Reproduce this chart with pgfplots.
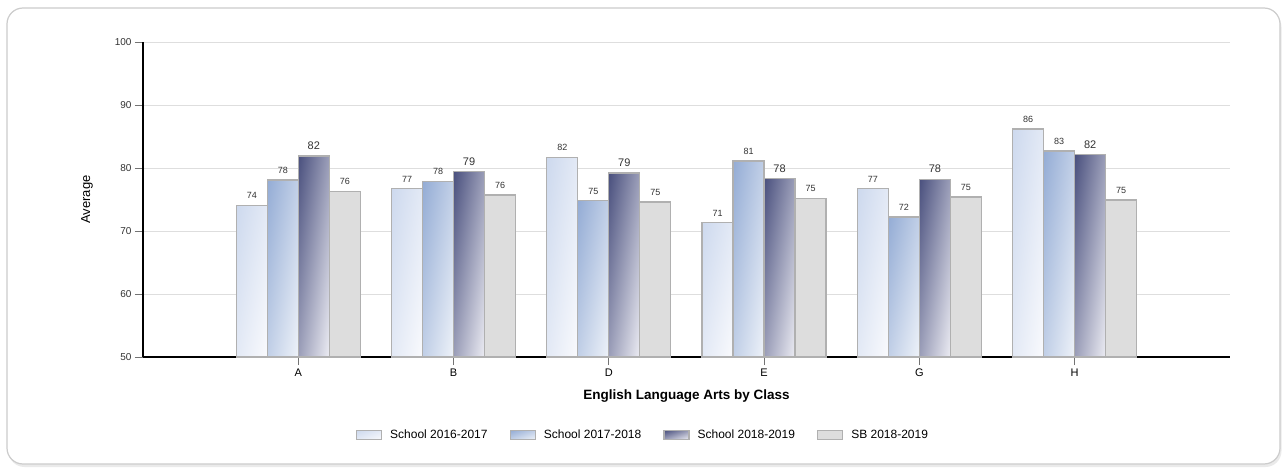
\documentclass[border=0pt]{standalone}
\usepackage{fontspec}
\setmainfont{Liberation Sans}
\usepackage{pgfplots}
\pgfplotsset{compat=1.18}
\usetikzlibrary{shadows}
\pgfdeclarefunctionalshading{dgA}{\pgfpoint{-50bp}{-50bp}}{\pgfpoint{50bp}{50bp}}{}{
  sub 100 div 0.5 add dup 0.173 mul 0.804 add exch dup 0.129 mul 0.851 add exch 0.059 mul 0.933 add }
\pgfdeclarefunctionalshading{dgB}{\pgfpoint{-50bp}{-50bp}}{\pgfpoint{50bp}{50bp}}{}{
  sub 100 div 0.5 add dup 0.353 mul 0.580 add exch dup 0.275 mul 0.675 add exch 0.141 mul 0.835 add }
\pgfdeclarefunctionalshading{dgC}{\pgfpoint{-50bp}{-50bp}}{\pgfpoint{50bp}{50bp}}{}{
  sub 100 div 0.5 add dup 0.635 mul 0.290 add exch dup 0.612 mul 0.314 add exch 0.459 mul 0.494 add }
\definecolor{s1l}{HTML}{CDD9EE}
\definecolor{s2l}{HTML}{94ACD5}
\definecolor{s3a}{HTML}{4A507E}
\definecolor{s4}{HTML}{DDDDDD}
\definecolor{edge}{HTML}{B0B0B0}
\definecolor{gridc}{HTML}{DEDEDE}
\definecolor{txt}{HTML}{333333}
\pgfplotsset{
  sA/.style={ybar, bar width=31pt, bar shift=-46.5pt, draw=edge, line width=1.3pt, fill=s1l, shade, shading=dgA},
  sB/.style={ybar, bar width=31pt, bar shift=-15.5pt, draw=edge, line width=1.3pt, fill=s2l, shade, shading=dgB},
  sC/.style={ybar, bar width=31pt, bar shift=15.5pt, draw=edge, line width=1.3pt, fill=s3a, shade, shading=dgC},
  sD/.style={ybar, bar width=31pt, bar shift=46.5pt, draw=edge, line width=1.3pt, fill=s4},
  lab/.style={draw=none, mark=none, forget plot,
    nodes near coords={\pgfmathprintnumber[fixed,precision=0]{\pgfplotspointmeta}},
    every node near coord/.append style={font=\fontsize{9}{11}\selectfont, text=txt, yshift=3pt, xshift=#1}},
}
\begin{document}
\begin{tikzpicture}[x=1pt,y=1pt]
\useasboundingbox (0,0) rectangle (1286,472);
\fill[white] (0,0) rectangle (1286,472);
\draw[black!20, line width=1.2pt, rounded corners=16pt, fill=white,
  drop shadow={shadow xshift=1.5pt, shadow yshift=-3pt, fill=black!16}]
  (7,8) rectangle (1280,464);
\begin{axis}[
  at={(143pt,115pt)}, anchor=south west, scale only axis,
  width=1087pt, height=315pt,
  xmin=-1, xmax=6, ymin=50, ymax=100,
  ytick={50,60,70,80,90,100},
  xtick={0,1,2,3,4,5}, xticklabels={A,B,D,E,G,H},
  ymajorgrids, grid style={gridc, line width=1pt},
  axis x line*=bottom, axis y line*=left,
  axis line style={black, line width=2pt},
  tick align=outside, major tick length=8pt,
  tick style={draw=black!55, line width=0.8pt},
  /pgf/number format/assume math mode=true,
  yticklabel style={font=\fontsize{10}{12}\selectfont, text=txt},
  xticklabel style={font=\fontsize{11}{13}\selectfont, text=black},
  ylabel={Average},
  every axis y label/.style={at={(axis description cs:0,0.5)}, xshift=-56pt, rotate=90, anchor=center, font=\fontsize{13}{15}\selectfont},
  xlabel={English Language Arts by Class},
  every axis x label/.style={at={(axis description cs:0.5,0)}, yshift=-39pt, anchor=center, font=\bfseries\fontsize{13.5}{15}\selectfont},
  legend style={at={(axis description cs:0.5,0)}, anchor=center, xshift=-43.5pt, yshift=-78pt,
    draw=none, fill=none, legend columns=4, font=\fontsize{12}{14}\selectfont,
    /tikz/every odd column/.append style={column sep=6pt},
    /tikz/every even column/.append style={column sep=20pt}},
  legend image code/.code={\draw[#1] (0pt,-4.5pt) rectangle (25pt,4.5pt);},
]
% School 2016-2017
\addplot[sA] coordinates {(0,74.1)};
\addlegendentry{School 2016-2017}
\addplot[sA, forget plot] coordinates {(1,76.7)};
\addplot[sA, forget plot] coordinates {(2,81.7)};
\addplot[sA, forget plot] coordinates {(3,71.3)};
\addplot[sA, forget plot] coordinates {(4,76.7)};
\addplot[sA, forget plot] coordinates {(5,86.2)};
% School 2017-2018
\addplot[sB] coordinates {(0,78.1)};
\addlegendentry{School 2017-2018}
\addplot[sB, forget plot] coordinates {(1,77.9)};
\addplot[sB, forget plot] coordinates {(2,74.8)};
\addplot[sB, forget plot] coordinates {(3,81.1)};
\addplot[sB, forget plot] coordinates {(4,72.2)};
\addplot[sB, forget plot] coordinates {(5,82.7)};
% School 2018-2019
\addplot[sC] coordinates {(0,81.9)};
\addlegendentry{School 2018-2019}
\addplot[sC, forget plot] coordinates {(1,79.4)};
\addplot[sC, forget plot] coordinates {(2,79.2)};
\addplot[sC, forget plot] coordinates {(3,78.3)};
\addplot[sC, forget plot] coordinates {(4,78.2)};
\addplot[sC, forget plot] coordinates {(5,82.1)};
% SB 2018-2019
\addplot[sD] coordinates {(0,76.3)};
\addlegendentry{SB 2018-2019}
\addplot[sD, forget plot] coordinates {(1,75.7)};
\addplot[sD, forget plot] coordinates {(2,74.6)};
\addplot[sD, forget plot] coordinates {(3,75.2)};
\addplot[sD, forget plot] coordinates {(4,75.4)};
\addplot[sD, forget plot] coordinates {(5,74.9)};
% value labels
\addplot[lab=-46.5pt] coordinates {(0,74.1) (1,76.7) (2,81.7) (3,71.3) (4,76.7) (5,86.2)};
\addplot[lab=-15.5pt] coordinates {(0,78.1) (1,77.9) (2,74.8) (3,81.1) (4,72.2) (5,82.7)};
\addplot[lab=15.5pt, every node near coord/.append style={font=\fontsize{11}{13}\selectfont}]
  coordinates {(0,81.9) (1,79.4) (2,79.2) (3,78.3) (4,78.2) (5,82.1)};
\addplot[lab=46.5pt] coordinates {(0,76.3) (1,75.7) (2,74.6) (3,75.2) (4,75.4) (5,74.9)};
\end{axis}
\end{tikzpicture}
\end{document}
